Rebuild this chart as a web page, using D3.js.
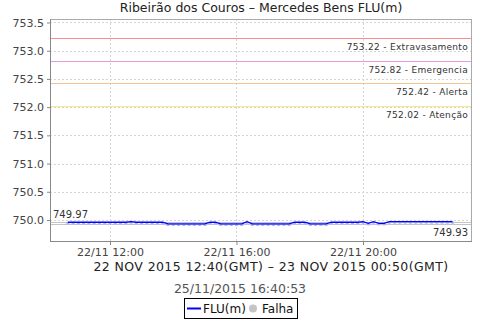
<!DOCTYPE html>
<html><head><meta charset="utf-8">
<script src="https://cdn.jsdelivr.net/npm/d3@7"></script>
<style>body{margin:0;background:#fff}svg{display:block;font-family:"DejaVu Sans",sans-serif}</style>
</head><body><svg id="c" width="480" height="320"></svg>
<script>
const title = "Ribeirão dos Couros – Mercedes Bens FLU(m)";
const periodLabel = "22 NOV 2015 12:40(GMT) – 23 NOV 2015 00:50(GMT)";
const stampLabel = "25/11/2015 16:40:53";
const seriesName = "FLU(m)";
const failName = "Falha";
const startTime = "2015-11-22T10:40:00Z";
const stepMinutes = 10;
const fluValues = [
  749.96,749.96,749.96,749.96,749.96,749.96,749.96,749.96,749.96,749.96,749.96,749.96,
  749.97,
  749.96,749.96,749.96,749.96,749.96,749.96,
  749.93,749.93,749.93,749.93,749.93,749.93,749.93,749.93,
  749.96,749.96,
  749.93,749.93,749.93,749.93,749.93,
  749.97,
  749.93,749.93,749.93,749.93,749.93,749.93,749.93,749.93,
  749.96,749.96,749.96,
  749.93,749.93,749.93,749.93,
  749.96,749.96,749.96,749.96,749.96,749.96,
  749.97,749.94,749.97,749.94,749.94,
  749.97,749.97,749.97,749.97,749.97,749.97,749.97,749.97,749.97,749.97,749.97,749.97,749.97
];
const thresholdValues = [753.22, 752.82, 752.42, 752.02];
const thresholdNames = ["Extravasamento", "Emergencia", "Alerta", "Atenção"];
const thresholdColors = ["#ff8c8c", "#e99be9", "#f5c392", "#f7ea85"];
const maxValue = 749.97, minValue = 749.93;
const yTicks = [750.0, 750.5, 751.0, 751.5, 752.0, 752.5, 753.0, 753.5];
const yDomain = [749.61, 753.562];
const xDomain = ["2015-11-22T10:06:12Z", "2015-11-22T23:26:48Z"];

const svg = d3.select("#c");
const L = 50, R = 472, T = 19, B = 242;
const x = d3.scaleUtc().domain(xDomain.map(d => new Date(d))).range([L, R]);
const y = d3.scaleLinear().domain(yDomain).range([B, T]);
const t0 = new Date(startTime);
const data = fluValues.map((v, i) => ({t: new Date(+t0 + i * stepMinutes * 60000), v}));
const xTicks = x.ticks(d3.utcHour.every(4));

// grid
const g = svg.append("g");
g.selectAll(".hg").data(yTicks).join("line")
  .attr("x1", L).attr("x2", R).attr("y1", d => Math.round(y(d)) + 0.5).attr("y2", d => Math.round(y(d)) + 0.5)
  .attr("stroke", "#d4d4d4").attr("stroke-dasharray", "2,2");
g.selectAll(".vg").data(xTicks).join("line")
  .attr("y1", T).attr("y2", B).attr("x1", d => Math.round(x(d)) + 0.5).attr("x2", d => Math.round(x(d)) + 0.5)
  .attr("stroke", "#d4d4d4").attr("stroke-dasharray", "2,2");

// thresholds
thresholdValues.forEach((v, i) => {
  const yy = Math.round(y(v)) + 0.5;
  g.append("line").attr("x1", L).attr("x2", R).attr("y1", yy).attr("y2", yy)
    .attr("stroke", thresholdColors[i]).attr("stroke-width", 1);
  g.append("text").attr("x", 468).attr("y", yy + 11).attr("text-anchor", "end")
    .attr("font-size", 9).attr("fill", "#333").attr("letter-spacing", 0.3).text(v.toFixed(2) + " - " + thresholdNames[i]);
});

// max / min markers
[maxValue, minValue].forEach((v, i) => {
  const yy = Math.round(y(v)) + 0.5;
  g.append("line").attr("x1", L).attr("x2", R).attr("y1", yy).attr("y2", yy)
    .attr("stroke", "#c4c4c4").attr("stroke-width", 1);
  if (i === 0) g.append("text").attr("x", 53).attr("y", yy - 5).attr("font-size", 10).attr("fill", "#333").text(v.toFixed(2));
  else g.append("text").attr("x", 468).attr("y", yy + 11).attr("text-anchor", "end").attr("font-size", 10).attr("fill", "#333").text(v.toFixed(2));
});

// series
const line = d3.line().x(d => x(d.t)).y(d => y(d.v));
g.selectAll(".pt").data(data).join("rect")
  .attr("x", d => x(d.t) - 1.5).attr("y", d => y(d.v)).attr("width", 3).attr("height", 2).attr("fill", "#aab4f2");
g.append("path").datum(data).attr("d", line).attr("fill", "none").attr("stroke", "#0000ff").attr("stroke-width", 1.3);

// borders
svg.append("rect").attr("x", L + 0.5).attr("y", T + 0.5).attr("width", R - L - 1).attr("height", B - T - 1)
  .attr("fill", "none").attr("stroke", "#aaaaaa");
svg.append("line").attr("x1", L + 0.5).attr("x2", L + 0.5).attr("y1", T).attr("y2", B).attr("stroke", "#888");
svg.append("line").attr("x1", L).attr("x2", R).attr("y1", B - 0.5).attr("y2", B - 0.5).attr("stroke", "#888");

// axes
const ya = svg.append("g").attr("transform", `translate(${L},0)`)
  .call(d3.axisLeft(y).tickValues(yTicks).tickFormat(d3.format(".1f")).tickSize(3).tickPadding(3));
ya.select(".domain").remove();
ya.selectAll("line").attr("stroke", "#888");
ya.selectAll("text").attr("font-size", 11).attr("fill", "#444").attr("font-family", "DejaVu Sans");
const xa = svg.append("g").attr("transform", `translate(0,${B})`)
  .call(d3.axisBottom(x).tickValues(xTicks).tickFormat(d3.utcFormat("%d/%m %H:%M")).tickSize(3).tickPadding(3));
xa.select(".domain").remove();
xa.selectAll("line").attr("stroke", "#888");
xa.selectAll("text").attr("font-size", 11).attr("fill", "#444").attr("font-family", "DejaVu Sans");

// titles
const cx = (L + R) / 2;
svg.append("text").attr("x", cx).attr("y", 12).attr("text-anchor", "middle").attr("font-size", 12.5).attr("fill", "#222").text(title);
svg.append("text").attr("x", cx + 10).attr("y", 271).attr("text-anchor", "middle").attr("font-size", 12.5).attr("fill", "#222").attr("letter-spacing", 0.4).text(periodLabel);
svg.append("text").attr("x", 240).attr("y", 293).attr("text-anchor", "middle").attr("font-size", 12.5).attr("fill", "#555").text(stampLabel);

// legend
const lg = svg.append("g");
lg.append("rect").attr("x", 184.5).attr("y", 298.5).attr("width", 113).attr("height", 20).attr("fill", "#fff").attr("stroke", "#000");
lg.append("line").attr("x1", 187).attr("x2", 201).attr("y1", 308.5).attr("y2", 308.5).attr("stroke", "#0000ff").attr("stroke-width", 2);
lg.append("text").attr("x", 203).attr("y", 313).attr("font-size", 12).attr("fill", "#111").text(seriesName);
lg.append("circle").attr("cx", 253).attr("cy", 308.5).attr("r", 4).attr("fill", "#c4c4c4");
lg.append("text").attr("x", 262).attr("y", 313).attr("font-size", 12).attr("fill", "#111").text(failName);
</script></body></html>
